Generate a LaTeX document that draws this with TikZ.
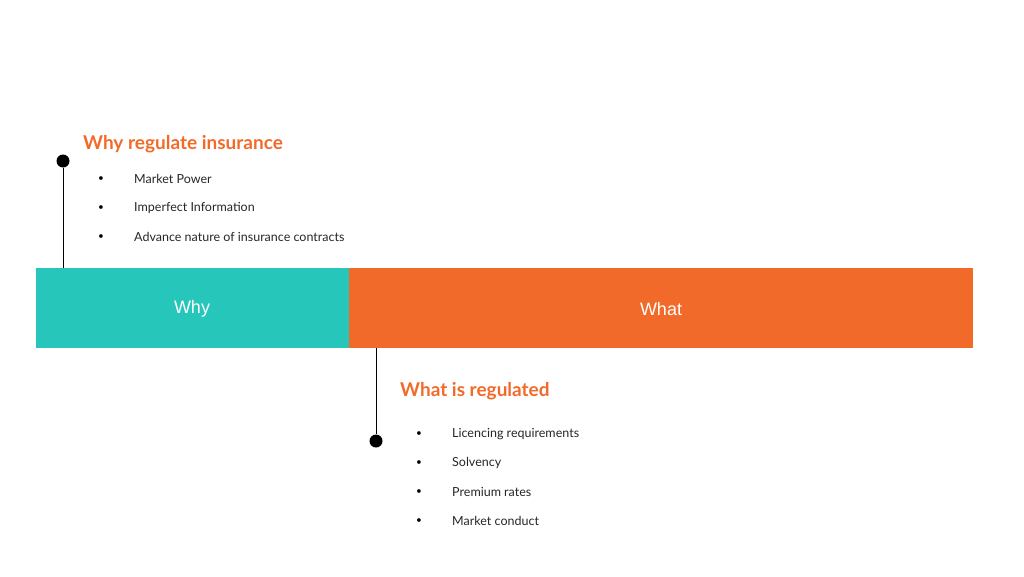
\documentclass[tikz,border=0pt]{standalone}
\usepackage{fontspec}
\setmainfont{Lato}
\newfontfamily\arialf{Liberation Sans}
\definecolor{teal1}{HTML}{27C6BA}
\definecolor{orng}{HTML}{F26A2A}
\begin{document}
\begin{tikzpicture}[x=1pt,y=-1pt,
  ttl/.style={anchor=west,text=orng,font=\fontsize{19}{22}\selectfont\bfseries,inner sep=0pt},
  itm/.style={anchor=west,font=\fontsize{12.5}{15}\selectfont,inner sep=0pt,text=black!85},
  bul/.style={anchor=center,font=\fontsize{10}{12}\selectfont,inner sep=0pt},
  dot/.style={circle,fill=black,minimum size=13pt,inner sep=0pt}]
\useasboundingbox (0,0) rectangle (1024,576);
\fill[teal1] (36,268) rectangle (349,348);
\fill[orng] (349,268) rectangle (973,348);
\node[text=white,font=\arialf\fontsize{18}{20}\selectfont] (why) at (192,309) {Why};
\node[text=white,font=\arialf\fontsize{18}{20}\selectfont] (what) at (661,309) {What};
\node[dot] (d1) at (63,161) {};
\coordinate (b1) at (63,268);
\draw[line width=1pt] (d1) -- (b1);
\node[dot] (d2) at (376,441) {};
\coordinate (b2) at (376,348);
\draw[line width=1pt] (b2) -- (d2);
\node[ttl] (t1) at (83,144) {Why regulate insurance};
\foreach \y/\t [count=\i] in {179/Market Power,208/Imperfect Information,237/Advance nature of insurance contracts}{
  \node[bul] (ba\i) at (101,\y) {•};
  \node[itm] (ia\i) at (134,\y) {\t};
}
\node[ttl] (t2) at (400,391) {What is regulated};
\foreach \y/\t [count=\i] in {434/Licencing requirements,463/Solvency,492/Premium rates,521/Market conduct}{
  \node[bul] (bb\i) at (419,\y) {•};
  \node[itm] (ib\i) at (452,\y) {\t};
}
\end{tikzpicture}
\end{document}
